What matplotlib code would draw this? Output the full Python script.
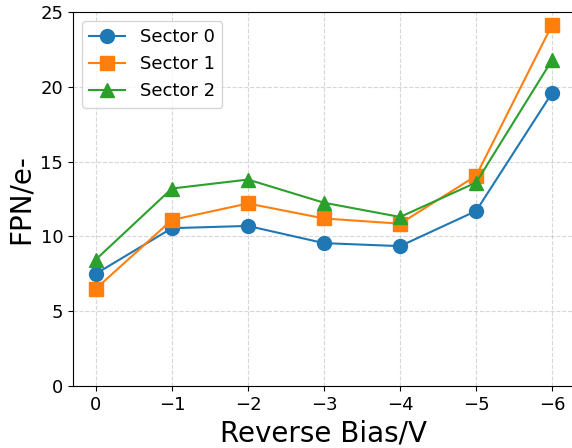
import matplotlib
matplotlib.use("Agg")
import matplotlib.pyplot as plt

bias = [0, -1, -2, -3, -4, -5, -6]
sector0 = [7.5, 10.55, 10.7, 9.55, 9.35, 11.7, 19.6]
sector1 = [6.5, 11.1, 12.2, 11.2, 10.85, 14.05, 24.15]
sector2 = [8.45, 13.2, 13.8, 12.25, 11.3, 13.6, 21.8]
labels = ["Sector 0", "Sector 1", "Sector 2"]
markers = ["o", "s", "^"]

fig = plt.figure(figsize=(5.72, 4.48), dpi=100)
ax = fig.add_axes([73 / 572, 1 - 386 / 448, 502 / 572, 374 / 448])

for vals, lab, m in zip([sector0, sector1, sector2], labels, markers):
    ax.plot(bias, vals, marker=m, markersize=10, linewidth=1.5, label=lab)

ax.set_ylim(0, 25)
ax.invert_xaxis()
ax.grid(True, linestyle="--", alpha=0.5)
ax.tick_params(labelsize=13)
ax.set_xlabel("Reverse Bias/V", fontsize=20)
ax.set_ylabel("FPN/e-", fontsize=20)
ax.legend(loc="upper left", fontsize=13)

fig.savefig("out.png", dpi=100)
